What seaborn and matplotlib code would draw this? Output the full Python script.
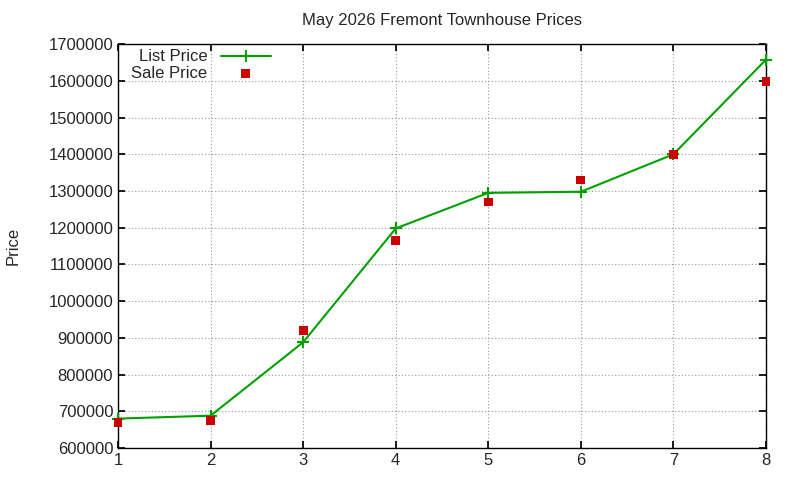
import numpy as np
import matplotlib
matplotlib.use("Agg")
import matplotlib.pyplot as plt
import seaborn as sns

months = [1, 2, 3, 4, 5, 6, 7, 8]
list_price = [680000, 688000, 888000, 1198000, 1295000, 1298000, 1400000, 1658000]
sale_price = [670000, 675000, 920000, 1165000, 1270000, 1330000, 1400000, 1598000]

sns.set_theme(style="white")
plt.rcParams["font.family"] = ["Liberation Sans", "DejaVu Sans"]

fig = plt.figure(figsize=(8, 4.8), dpi=100)
ax = fig.add_axes([0.1475, 0.0667, 0.81, 0.8413])

ax.plot(months, list_price, color="#00a000", linewidth=1.5, marker="+",
        markersize=9, markeredgewidth=1.5, markeredgecolor="#00a000",
        label="List Price", clip_on=False, zorder=3)
sns.scatterplot(x=months, y=sale_price, ax=ax, color="#cc0000", marker="s",
                s=40, edgecolor="none", label="Sale Price", zorder=4, clip_on=False)

ax.set_xlim(1, 8)
ax.set_ylim(600000, 1700000)
ax.set_xticks(months)
ax.set_yticks(np.arange(600000, 1700001, 100000))
ax.ticklabel_format(axis="y", style="plain", useOffset=False)
ax.grid(True, color="#999999", linestyle=(0, (1, 2)), linewidth=0.8)
for s in ax.spines.values():
    s.set_color("black")
    s.set_linewidth(1)
ax.tick_params(axis="both", direction="in", length=5, labelsize=12, color="black",
               top=True, right=True, bottom=True, left=True)
ax.set_ylabel("Price", fontsize=12, labelpad=20)
ax.set_xlabel("")
ax.set_title("May 2026 Fremont Townhouse Prices", fontsize=12, pad=14)
ax.legend(loc="upper left", frameon=False, markerfirst=False, fontsize=12,
          bbox_to_anchor=(0.0, 1.02), handlelength=3, borderpad=0.3, labelspacing=0.1)

fig.savefig("out.png", dpi=100)
